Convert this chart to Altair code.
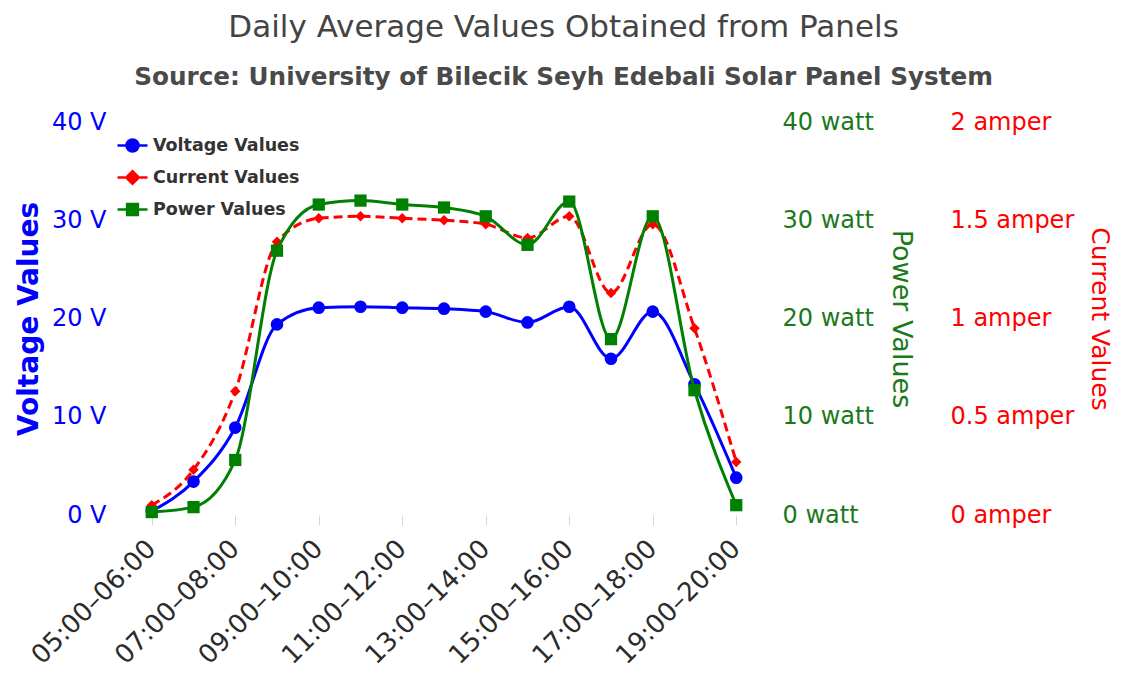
import altair as alt
import pandas as pd

periods = ["05:00–06:00", "06:00–07:00", "07:00–08:00", "08:00–09:00", "09:00–10:00",
           "10:00–11:00", "11:00–12:00", "12:00–13:00", "13:00–14:00", "14:00–15:00",
           "15:00–16:00", "16:00–17:00", "17:00–18:00", "18:00–19:00", "19:00–20:00"]
voltage = [0.4, 3.4, 8.9, 19.4, 21.1, 21.2, 21.1, 21.0, 20.7, 19.6, 21.2, 15.9, 20.7, 13.3, 3.8]
current = [0.05, 0.23, 0.63, 1.39, 1.51, 1.52, 1.51, 1.50, 1.48, 1.41, 1.52, 1.13, 1.48, 0.95, 0.27]
power = [0.3, 0.8, 5.6, 26.9, 31.6, 32.0, 31.6, 31.3, 30.4, 27.5, 31.9, 17.9, 30.4, 12.7, 1.0]

series_names = ["Voltage Values", "Current Values", "Power Values"]
series_colors = ["#0000ff", "#ff0000", "#008000"]
legend_shapes = [
    "M-1,0H1 M0.4,0 A0.4,0.4 0 1,1 -0.4,0 A0.4,0.4 0 1,1 0.4,0 Z",
    "M-1,0H-0.5 M0.5,0H1 M0,-0.42 L0.42,0 L0,0.42 L-0.42,0 Z",
    "M-1,0H1 M-0.36,-0.36H0.36V0.36H-0.36Z",
]

df = pd.DataFrame({"period": periods, "voltage": voltage, "current": current, "power": power})
df["series"] = "Voltage Values"

FONT = "DejaVu Sans"

x_enc = alt.X("period:N", sort=periods,
              scale=alt.Scale(type="point", padding=1),
              axis=alt.Axis(values=periods[::2], labelAngle=-45, labelFontSize=26,
                            labelFont=FONT, labelColor="#2b2b2b", tickColor="#ccd6eb",
                            tickSize=10, tickWidth=1, domain=False, grid=False,
                            title=None, labelPadding=10, labelOffset=-10))

base = alt.Chart(df)

# Voltage
v_y = alt.Y("voltage:Q", scale=alt.Scale(domain=[0, 40], nice=False),
            axis=alt.Axis(orient="left", values=[0, 10, 20, 30, 40],
                          labelExpr="datum.value + ' V'", labelColor="#0000ff",
                          labelFontSize=24, labelFont=FONT, title="Voltage Values",
                          titleColor="#0000ff", titleFontSize=28, titleFont=FONT,
                          titleFontWeight="bold", grid=False, domain=False, ticks=False,
                          labelPadding=4, titlePadding=8))
v_line = base.mark_line(interpolate="monotone", color="#0000ff", strokeWidth=3).encode(x=x_enc, y=v_y)
v_pts = base.mark_point(shape="circle", filled=True, size=160, color="#0000ff", opacity=1).encode(x=x_enc, y=v_y)

leg = alt.Legend(title=None, orient="none", legendX=6, legendY=7, symbolSize=900,
                 symbolStrokeWidth=2.5, symbolOpacity=1, labelFont=FONT, labelFontSize=17.5,
                 labelFontWeight="bold", labelColor="#333333", rowPadding=4, padding=0,
                 labelOffset=4)
leg_layer = base.mark_point(filled=True).encode(
    x=x_enc, y=v_y,
    fill=alt.Fill("series:N", scale=alt.Scale(domain=series_names, range=series_colors), legend=leg),
    stroke=alt.Stroke("series:N", scale=alt.Scale(domain=series_names, range=series_colors), legend=leg),
    shape=alt.Shape("series:N", scale=alt.Scale(domain=series_names, range=legend_shapes), legend=leg),
).transform_filter("false")

volt = alt.layer(v_line, v_pts, leg_layer)

# Current
c_y = alt.Y("current:Q", scale=alt.Scale(domain=[0, 2], nice=False),
            axis=alt.Axis(orient="right", offset=168, values=[0, 0.5, 1, 1.5, 2],
                          labelExpr="datum.value + ' amper'", labelColor="#ff0000",
                          labelFontSize=24, labelFont=FONT, title="Current Values",
                          titleColor="#ff0000", titleFontSize=25, titleFont=FONT,
                          titleFontWeight="normal", grid=False, domain=False, ticks=False,
                          labelPadding=4, titlePadding=13))
c_line = base.mark_line(interpolate="monotone", color="#ff0000", strokeWidth=3,
                        strokeDash=[9, 5]).encode(x=x_enc, y=c_y)
c_pts = base.mark_point(shape="diamond", filled=True, size=110, color="#ff0000", opacity=1).encode(x=x_enc, y=c_y)
curr = alt.layer(c_line, c_pts)

# Power
p_y = alt.Y("power:Q", scale=alt.Scale(domain=[0, 40], nice=False),
            axis=alt.Axis(orient="right", values=[0, 10, 20, 30, 40],
                          labelExpr="datum.value + ' watt'", labelColor="#1a7a1a",
                          labelFontSize=24, labelFont=FONT, title="Power Values",
                          titleColor="#1a7a1a", titleFontSize=27, titleFont=FONT,
                          titleFontWeight="normal", grid=False, domain=False, ticks=False,
                          labelPadding=4, titlePadding=13))
p_line = base.mark_line(interpolate="monotone", color="#008000", strokeWidth=3).encode(x=x_enc, y=p_y)
p_pts = base.mark_point(shape="square", filled=True, size=150, color="#008000", opacity=1).encode(x=x_enc, y=p_y)
powr = alt.layer(p_line, p_pts)

chart = alt.layer(volt, curr, powr).resolve_scale(y="independent").properties(
    width=668, height=393,
    padding={"left": 7, "top": 4, "right": 2, "bottom": 0},
    title=alt.TitleParams(
        text="Daily Average Values Obtained from Panels",
        subtitle="Source: University of Bilecik Seyh Edebali Solar Panel System",
        font=FONT, fontSize=31, fontWeight="normal", color="#444444",
        subtitleFont=FONT, subtitleFontSize=24.7, subtitleFontWeight="bold",
        subtitleColor="#4a4a4a", subtitlePadding=21, anchor="middle", frame="bounds",
        offset=19),
).configure_view(stroke=None)

chart.save("out.html", embed_options={"renderer": "svg", "actions": False})
